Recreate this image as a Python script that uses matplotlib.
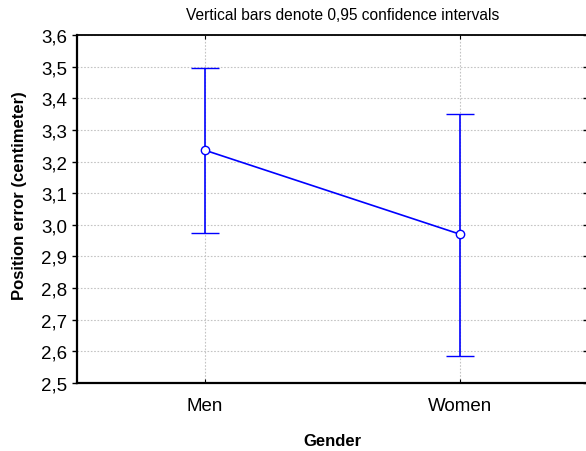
import matplotlib
matplotlib.use("Agg")
import matplotlib.pyplot as plt
import numpy as np

plt.rcParams["font.family"] = ["Liberation Sans", "DejaVu Sans"]

groups = ["Men", "Women"]
means = [3.236, 2.970]
ci_low = [2.975, 2.585]
ci_high = [3.495, 3.350]
yticks = [2.5, 2.6, 2.7, 2.8, 2.9, 3.0, 3.1, 3.2, 3.3, 3.4, 3.5, 3.6]

W, H = 586, 452
fig = plt.figure(figsize=(W / 100, H / 100), dpi=100)
ax = fig.add_axes([77 / W, 1 - 384 / H, 511 / W, 348 / H])

x = np.arange(len(groups))
m = np.array(means)
yerr = [m - np.array(ci_low), np.array(ci_high) - m]
ax.errorbar(x, m, yerr=yerr, color="#0000ff", lw=1.2, capsize=10, capthick=1.2,
            marker="o", ms=6, mfc="white", mec="#0000ff", mew=1.0, zorder=3)

ax.set_xlim(-0.5, 1.5)
ax.set_ylim(2.5, 3.6)
ax.set_xticks(x)
ax.set_xticklabels(groups, fontsize=13.5)
ax.set_yticks(yticks)
ax.set_yticklabels([f"{v:.1f}".replace(".", ",") for v in yticks], fontsize=13.5)
ax.tick_params(axis="y", direction="out", length=3.6, width=1, pad=3.5, right=True)
for t in ax.yaxis.get_major_ticks():
    t.tick2line.set_marker(0)  # right ticks point inward
    t.tick2line.set_markersize(3.6)
ax.tick_params(axis="x", direction="in", length=3, top=True, bottom=True, pad=10)
ax.grid(True, color="#c4c4c4", ls=(0, (1.5, 1.5)), lw=0.8)
ax.set_axisbelow(True)

for s in ["left", "bottom"]:
    ax.spines[s].set_linewidth(1.6)
for s in ["top", "right"]:
    ax.spines[s].set_linewidth(1.3)

fig.text(20 / W, 1 - 196 / H, "Position error (centimeter)", rotation=90,
         ha="center", va="center", fontsize=12, fontweight="bold")
fig.text(332 / W, 1 - 442 / H, "Gender", ha="center", va="center",
         fontsize=12, fontweight="bold")
fig.text(343 / W, 1 - 16 / H, "Vertical bars denote 0,95 confidence intervals",
         ha="center", va="center", fontsize=11.2)

fig.savefig("out.png", dpi=100)
